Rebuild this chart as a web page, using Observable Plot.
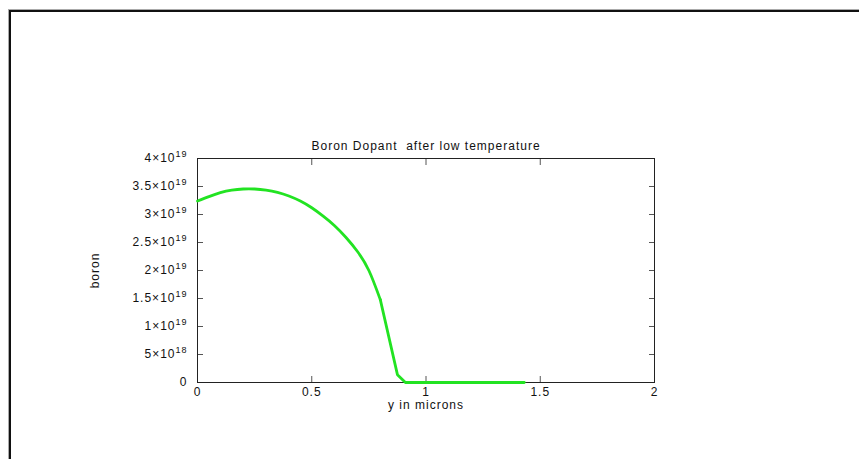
<!DOCTYPE html>
<html>
<head>
<meta charset="utf-8">
<script src="https://cdn.jsdelivr.net/npm/d3@7"></script>
<script src="https://cdn.jsdelivr.net/npm/@observablehq/plot@0.6"></script>
<style>
  html, body { margin: 0; padding: 0; background: #fff; overflow: hidden; }
  #wrap { position: relative; width: 859px; height: 459px; }
  #border { position: absolute; left: 9px; top: 10px; width: 900px; height: 500px;
            border-left: 2px solid #111; border-top: 2px solid #111; box-shadow: -1px -1px 0 #aaa; }
  #chart { position: absolute; left: 0; top: 0; }
  #chart text { letter-spacing: 1px; }
</style>
</head>
<body>
<div id="wrap"><div id="border"></div><div id="chart"></div></div>
<script>
const title = "Boron Dopant  after low temperature";
const xLabel = "y in microns";
const yLabel = "boron";

// depth (microns)
const depth = [0, 0.05, 0.1, 0.15, 0.2, 0.25, 0.3, 0.35, 0.4, 0.45, 0.5, 0.55, 0.6, 0.65, 0.7, 0.75, 0.8, 0.875, 0.91, 1.0, 1.1, 1.2, 1.3, 1.43];
// boron concentration (cm^-3)
const boron = [3.24e19, 3.32e19, 3.39e19, 3.435e19, 3.455e19, 3.455e19, 3.435e19, 3.395e19, 3.33e19, 3.24e19, 3.12e19, 2.97e19, 2.80e19, 2.59e19, 2.34e19, 2.00e19, 1.48e19, 0.14e19, 0, 0, 0, 0, 0, 0];

const xTicks = [0, 0.5, 1, 1.5, 2];
const xTickLabels = ["0", "0.5", "1", "1.5", "2"];
const yTicks = [0, 5e18, 1e19, 1.5e19, 2e19, 2.5e19, 3e19, 3.5e19, 4e19];
const yTickLabels = ["0", "5×10^18", "1×10^19", "1.5×10^19", "2×10^19", "2.5×10^19", "3×10^19", "3.5×10^19", "4×10^19"];

const upper = depth.filter(d => d <= 0.8).length;
const data = depth.map((d, i) => ({x: d, y: boron[i]}));

const plot = Plot.plot({
  width: 859,
  height: 459,
  marginLeft: 197,
  marginRight: 205,
  marginTop: 158,
  marginBottom: 77,
  style: {fontFamily: "'Liberation Sans', Arial, sans-serif", fontSize: "12px", color: "#111", background: "transparent"},
  x: {domain: [0, 2]},
  y: {domain: [0, 4e19]},
  marks: [
    Plot.axisX(xTicks, {anchor: "bottom", tickSize: -6, text: null, label: null, stroke: "#555"}),
    Plot.axisX(xTicks, {anchor: "top", tickSize: -6, text: null, label: null, stroke: "#555"}),
    Plot.axisY(yTicks, {anchor: "left", tickSize: -6, text: null, label: null, stroke: "#555"}),
    Plot.axisY(yTicks, {anchor: "right", tickSize: -6, text: null, label: null, stroke: "#555"}),
    Plot.axisX(xTicks, {anchor: "bottom", tickSize: 0, tickPadding: 5, tickFormat: (d, i) => xTickLabels[i],
      label: xLabel, labelAnchor: "center", labelArrow: "none", labelOffset: 26, fontSize: 12}),
    Plot.axisY(yTicks, {anchor: "left", tickSize: 0, tickPadding: 10, tickFormat: (d, i) => yTickLabels[i],
      label: yLabel, labelAnchor: "center", labelArrow: "none", labelOffset: 107, fontSize: 12}),
    Plot.frame({stroke: "#222"}),
    Plot.line(data.slice(0, upper), {x: "x", y: "y", stroke: "#22e322", strokeWidth: 2.8, curve: "natural"}),
    Plot.line(data.slice(upper - 1), {x: "x", y: "y", stroke: "#22e322", strokeWidth: 2.8}),
    Plot.text([title], {frameAnchor: "top", dy: -17, fontSize: 12, fill: "#111"})
  ]
});
document.getElementById("chart").appendChild(plot);

// render "^NN" exponents as raised superscripts
plot.querySelectorAll("text").forEach(t => {
  const s = t.textContent;
  const m = s.match(/^(.*)\^(\d+)$/);
  if (!m) return;
  while (t.firstChild) t.removeChild(t.firstChild);
  const ns = "http://www.w3.org/2000/svg";
  const a = document.createElementNS(ns, "tspan");
  a.textContent = m[1];
  const b = document.createElementNS(ns, "tspan");
  b.textContent = m[2];
  b.setAttribute("dy", "-5");
  b.setAttribute("font-size", "9");
  t.appendChild(a);
  t.appendChild(b);
});
</script>
</body>
</html>
